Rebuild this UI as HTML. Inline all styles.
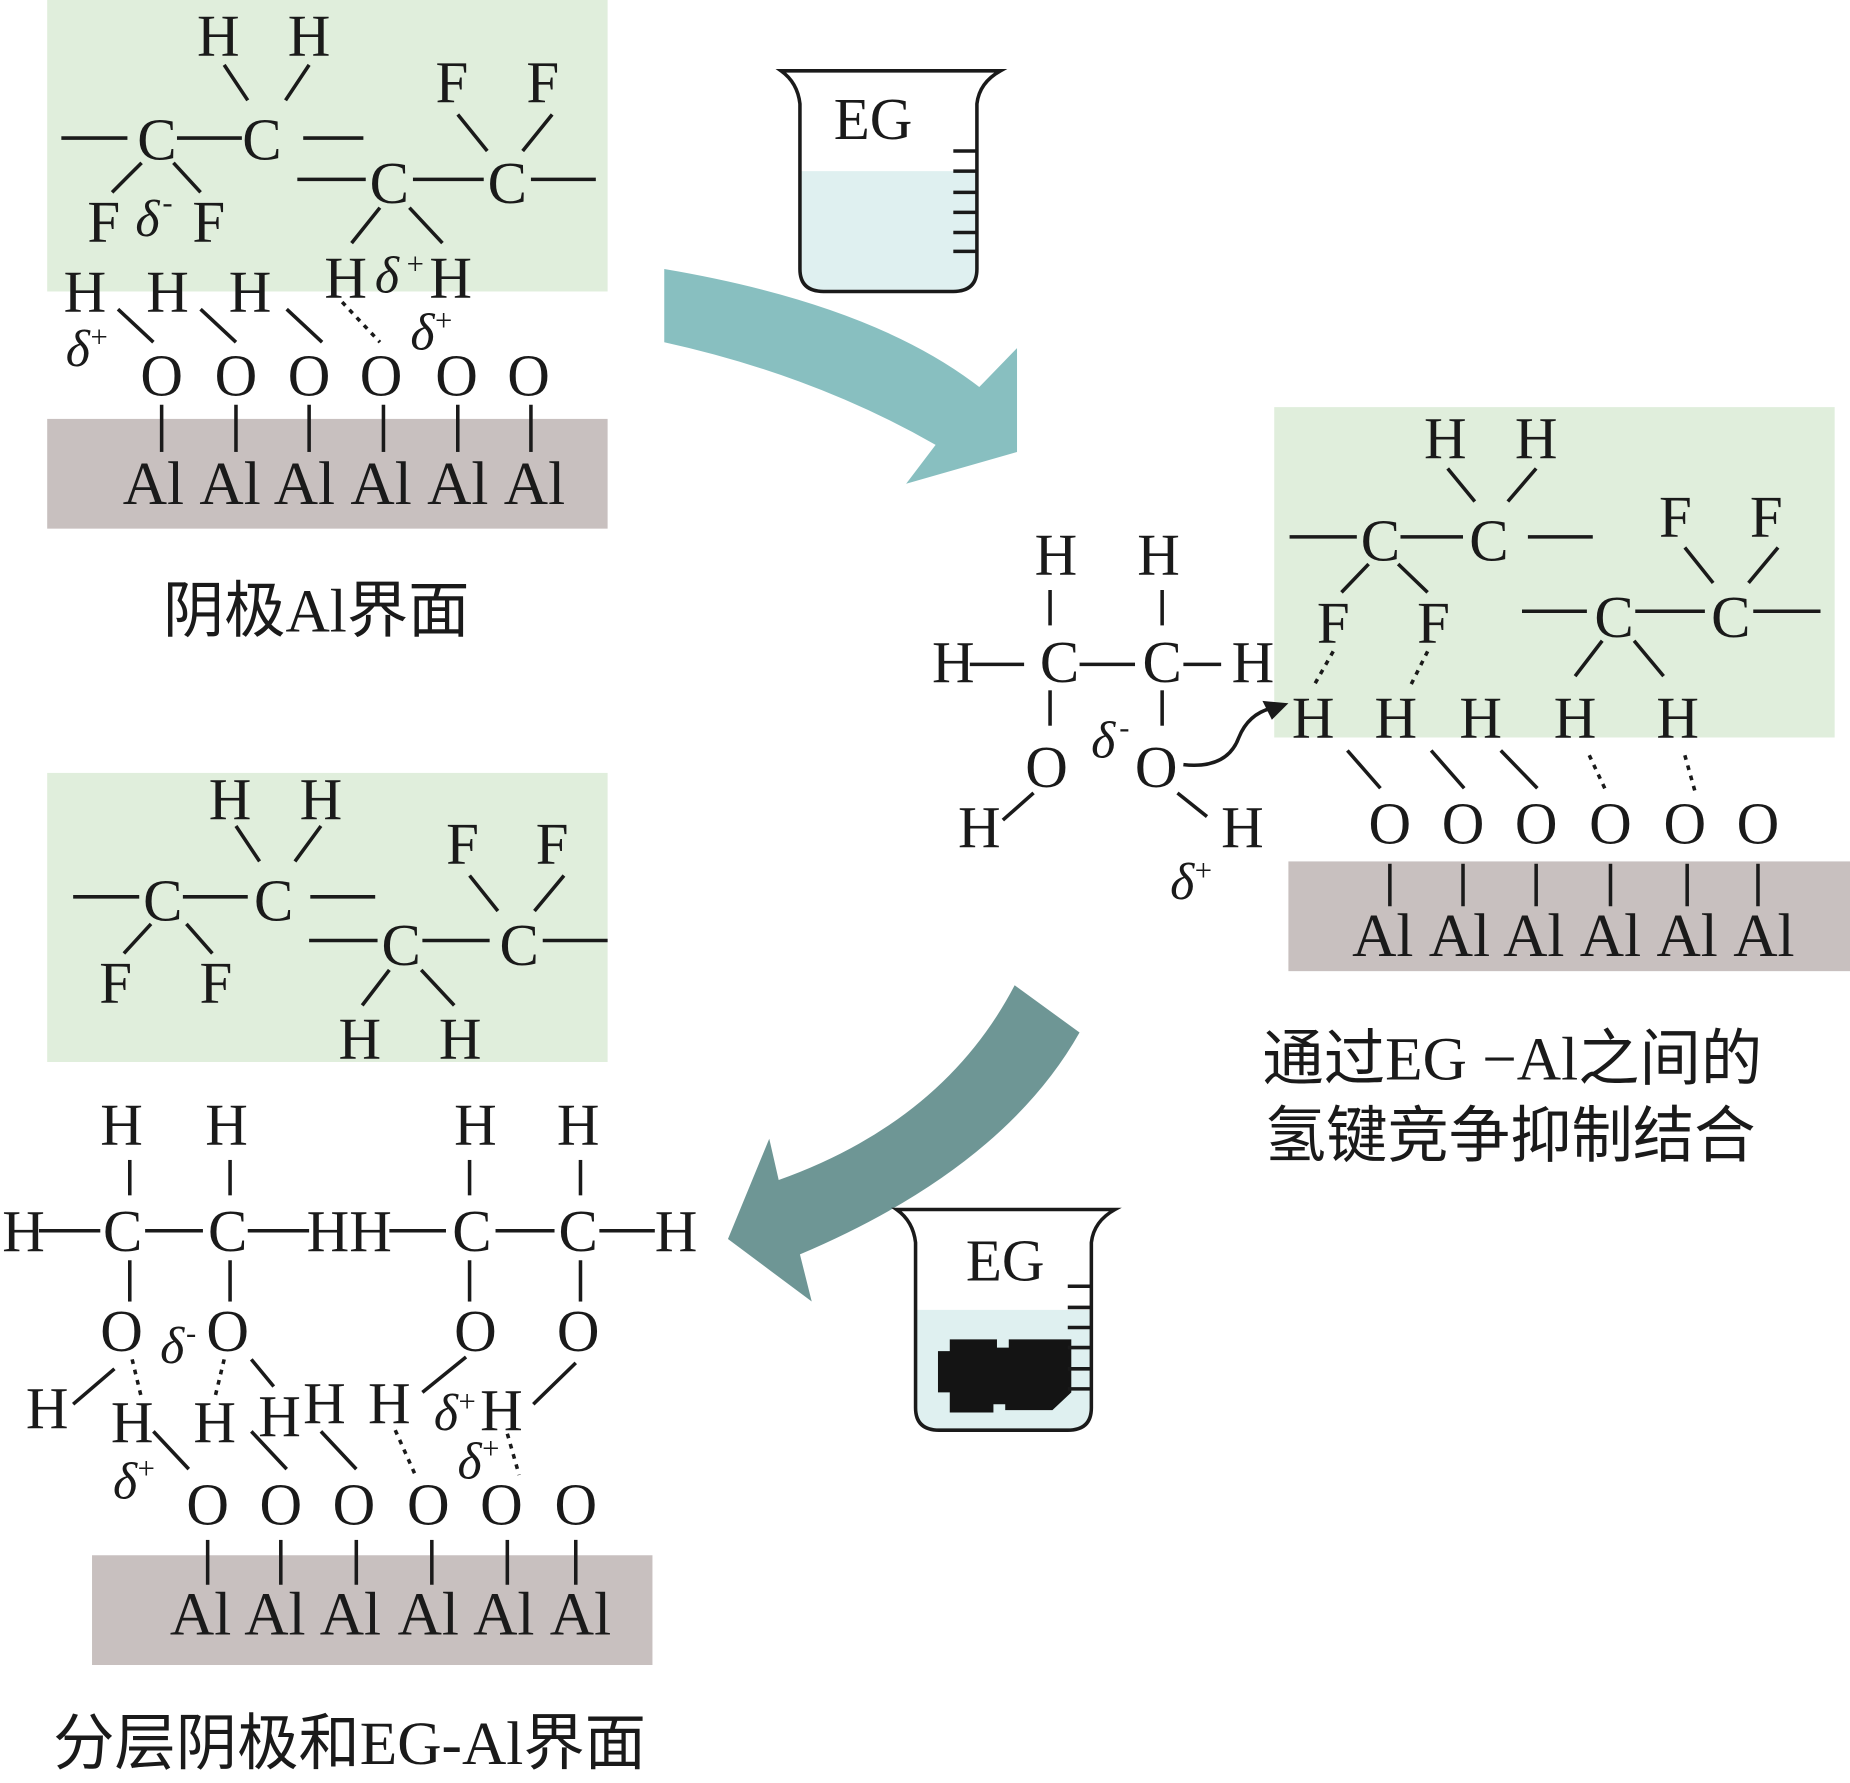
<!DOCTYPE html>
<html><head><meta charset="utf-8"><style>
html,body{margin:0;padding:0;background:#fff}
svg{display:block}
text{font-family:"Liberation Serif","Noto Serif CJK SC",serif;fill:#1a1a1a;text-anchor:middle}
.a{font-size:50px}
.al{font-size:52px}
.d{font-style:italic;font-size:44px}
.s{font-size:26px}
.cap{font-family:"Liberation Serif","Noto Sans CJK SC",sans-serif;font-size:52px;text-anchor:start}
line{stroke:#1a1a1a;stroke-width:3}
.dt{stroke-dasharray:4 5}
</style></head><body>
<svg width="1850" height="1783" viewBox="0 0 1568 1511" preserveAspectRatio="none" xmlns="http://www.w3.org/2000/svg">
<!-- Panel 1 -->
<rect x="40" y="0" width="475" height="247" fill="#e0eedc"/>
<rect x="40" y="355" width="475" height="93" fill="#c8c0bf"/>
<text class="a" x="185" y="47">H</text><text class="a" x="262" y="47">H</text>
<line x1="190" y1="55" x2="210" y2="85"/><line x1="262" y1="55" x2="242" y2="85"/>
<line x1="52" y1="117" x2="108" y2="117"/><text class="a" x="133" y="135">C</text>
<line x1="150" y1="117" x2="205" y2="117"/><text class="a" x="222" y="135">C</text>
<line x1="257" y1="117" x2="308" y2="117"/>
<text class="a" x="383" y="87">F</text><text class="a" x="460" y="87">F</text>
<line x1="388" y1="97" x2="413" y2="128"/><line x1="468" y1="97" x2="443" y2="128"/>
<line x1="252" y1="152" x2="310" y2="152"/><text class="a" x="330" y="172">C</text>
<line x1="350" y1="152" x2="410" y2="152"/><text class="a" x="430" y="172">C</text>
<line x1="450" y1="152" x2="505" y2="152"/>
<line x1="120" y1="138" x2="95" y2="163"/><line x1="147" y1="138" x2="170" y2="163"/>
<text class="a" x="88" y="205">F</text><text class="d" x="125" y="200">δ</text><text class="s" x="142" y="180">-</text><text class="a" x="177" y="205">F</text>
<line x1="322" y1="176" x2="298" y2="206"/><line x1="347" y1="176" x2="375" y2="206"/>
<text class="a" x="293" y="252">H</text><text class="d" x="328" y="248">δ</text><text class="s" x="352" y="232">+</text><text class="a" x="382" y="252">H</text>
<text class="a" x="72" y="264">H</text><text class="a" x="142" y="264">H</text><text class="a" x="212" y="264">H</text>
<line x1="100" y1="262" x2="130" y2="290"/><line x1="170" y1="262" x2="200" y2="290"/><line x1="243" y1="262" x2="273" y2="290"/>
<line class="dt" x1="290" y1="256" x2="322" y2="290"/>
<text class="d" x="66" y="310">δ</text><text class="s" x="84" y="294">+</text>
<text class="d" x="358" y="296">δ</text><text class="s" x="376" y="280">+</text>
<g>
<text class="a" x="137" y="335">O</text><text class="a" x="200" y="335">O</text><text class="a" x="262" y="335">O</text><text class="a" x="323" y="335">O</text><text class="a" x="387" y="335">O</text><text class="a" x="448" y="335">O</text>
<line x1="137" y1="343" x2="137" y2="383"/><line x1="200" y1="343" x2="200" y2="383"/><line x1="262" y1="343" x2="262" y2="383"/><line x1="325" y1="343" x2="325" y2="383"/><line x1="388" y1="343" x2="388" y2="383"/><line x1="450" y1="343" x2="450" y2="383"/>
<text class="al" x="130" y="427">Al</text><text class="al" x="195" y="427">Al</text><text class="al" x="258" y="427">Al</text><text class="al" x="323" y="427">Al</text><text class="al" x="388" y="427">Al</text><text class="al" x="453" y="427">Al</text>
</g>
<text class="cap" x="138" y="535">阴极Al界面</text>

<!-- Beaker 1 -->
<path d="M678,145 L828,145 L828,228 Q828,247 808,247 L698,247 Q678,247 678,228 Z" fill="#dff0f0"/>
<path d="M662,60 L848,60 Q830,70 828,88 L828,228 Q828,247 808,247 L698,247 Q678,247 678,228 L678,88 Q676,70 662,60 Z" fill="none" stroke="#1a1a1a" stroke-width="3"/>
<g><line x1="808" y1="128" x2="828" y2="128"/><line x1="808" y1="145" x2="828" y2="145"/><line x1="808" y1="163" x2="828" y2="163"/><line x1="808" y1="180" x2="828" y2="180"/><line x1="808" y1="197" x2="828" y2="197"/><line x1="808" y1="213" x2="828" y2="213"/></g>
<text class="a" x="740" y="118">EG</text>

<!-- Arrow 1 -->
<path d="M563,228 Q740,258 830,328 L862,295 L862,383 L768,410 L793,377 Q690,318 563,290 Z" fill="#88bfc0"/>

<!-- Panel 2 -->
<rect x="1080" y="345" width="475" height="280" fill="#e0eedc"/>
<rect x="1092" y="730" width="476" height="93" fill="#c8c0bf"/>
<text class="a" x="1225" y="388">H</text><text class="a" x="1302" y="388">H</text>
<line x1="1227" y1="397" x2="1250" y2="425"/><line x1="1302" y1="397" x2="1278" y2="425"/>
<line x1="1093" y1="455" x2="1150" y2="455"/><text class="a" x="1170" y="475">C</text>
<line x1="1187" y1="455" x2="1240" y2="455"/><text class="a" x="1262" y="475">C</text>
<line x1="1295" y1="455" x2="1350" y2="455"/>
<text class="a" x="1420" y="455">F</text><text class="a" x="1497" y="455">F</text>
<line x1="1428" y1="464" x2="1452" y2="494"/><line x1="1507" y1="464" x2="1482" y2="494"/>
<line x1="1290" y1="518" x2="1345" y2="518"/><text class="a" x="1368" y="540">C</text>
<line x1="1386" y1="518" x2="1445" y2="518"/><text class="a" x="1467" y="540">C</text>
<line x1="1486" y1="518" x2="1543" y2="518"/>
<line x1="1160" y1="478" x2="1137" y2="502"/><line x1="1185" y1="478" x2="1210" y2="502"/>
<text class="a" x="1130" y="545">F</text><text class="a" x="1215" y="545">F</text>
<line x1="1358" y1="543" x2="1335" y2="573"/><line x1="1385" y1="543" x2="1410" y2="573"/>
<line class="dt" x1="1130" y1="552" x2="1113" y2="582"/><line class="dt" x1="1210" y1="552" x2="1195" y2="582"/>
<text class="a" x="1113" y="625">H</text><text class="a" x="1183" y="625">H</text><text class="a" x="1255" y="625">H</text><text class="a" x="1335" y="625">H</text><text class="a" x="1422" y="625">H</text>
<line x1="1142" y1="636" x2="1170" y2="668"/><line x1="1213" y1="636" x2="1241" y2="668"/><line x1="1272" y1="636" x2="1303" y2="668"/>
<line class="dt" x1="1347" y1="640" x2="1362" y2="672"/><line class="dt" x1="1428" y1="640" x2="1437" y2="672"/>
<text class="a" x="1178" y="715">O</text><text class="a" x="1240" y="715">O</text><text class="a" x="1302" y="715">O</text><text class="a" x="1365" y="715">O</text><text class="a" x="1428" y="715">O</text><text class="a" x="1490" y="715">O</text>
<line x1="1178" y1="732" x2="1178" y2="768"/><line x1="1240" y1="732" x2="1240" y2="768"/><line x1="1302" y1="732" x2="1302" y2="768"/><line x1="1365" y1="732" x2="1365" y2="768"/><line x1="1430" y1="732" x2="1430" y2="768"/><line x1="1490" y1="732" x2="1490" y2="768"/>
<text class="al" x="1172" y="810">Al</text><text class="al" x="1237" y="810">Al</text><text class="al" x="1300" y="810">Al</text><text class="al" x="1365" y="810">Al</text><text class="al" x="1430" y="810">Al</text><text class="al" x="1495" y="810">Al</text>
<!-- EG molecule -->
<text class="a" x="895" y="487">H</text><text class="a" x="982" y="487">H</text>
<line x1="890" y1="500" x2="890" y2="530"/><line x1="985" y1="500" x2="985" y2="530"/>
<text class="a" x="808" y="578">H</text><line x1="822" y1="563" x2="868" y2="563"/><text class="a" x="898" y="578">C</text>
<line x1="915" y1="563" x2="962" y2="563"/><text class="a" x="985" y="578">C</text>
<line x1="1003" y1="563" x2="1035" y2="563"/><text class="a" x="1062" y="578">H</text>
<line x1="890" y1="585" x2="890" y2="615"/><line x1="985" y1="585" x2="985" y2="615"/>
<text class="a" x="887" y="667">O</text><text class="a" x="980" y="667">O</text>
<text class="d" x="935" y="642">δ</text><text class="s" x="953" y="625">-</text>
<text class="a" x="830" y="718">H</text><line x1="850" y1="695" x2="876" y2="672"/>
<line x1="998" y1="672" x2="1023" y2="692"/><text class="a" x="1053" y="718">H</text>
<text class="d" x="1002" y="762">δ</text><text class="s" x="1020" y="746">+</text>
<path d="M1003,648 Q1040,652 1050,625 Q1058,605 1078,600" fill="none" stroke="#1a1a1a" stroke-width="3"/>
<path d="M1092,596 L1070,594 L1078,610 Z" fill="#1a1a1a"/>
<text class="cap" x="1070" y="915">通过EG −Al之间的</text>
<text class="cap" x="1072" y="980">氢键竞争抑制结合</text>

<!-- Arrow 2 -->
<path d="M860,835 Q800,950 660,1000 L652,965 L617,1050 L688,1103 L678,1063 Q850,990 915,875 Z" fill="#6e9695"/>

<!-- Beaker 2 -->
<path d="M776,1110 L925,1110 L925,1193 Q925,1212 905,1212 L796,1212 Q776,1212 776,1193 Z" fill="#dff0f0"/>
<path d="M760,1025 L945,1025 Q927,1035 925,1053 L925,1193 Q925,1212 905,1212 L796,1212 Q776,1212 776,1193 L776,1053 Q774,1035 760,1025 Z" fill="none" stroke="#1a1a1a" stroke-width="3"/>
<path d="M805,1135 L845,1135 L845,1142 L855,1142 L855,1135 L908,1135 L908,1180 L892,1195 L852,1195 L852,1190 L842,1190 L842,1197 L805,1197 L805,1180 L795,1180 L795,1145 L805,1145 Z" fill="#141414"/>
<g><line x1="905" y1="1090" x2="925" y2="1090"/><line x1="905" y1="1108" x2="925" y2="1108"/><line x1="905" y1="1125" x2="925" y2="1125"/><line x1="905" y1="1142" x2="925" y2="1142"/><line x1="905" y1="1160" x2="925" y2="1160"/><line x1="905" y1="1177" x2="925" y2="1177"/></g>
<text class="a" x="852" y="1085">EG</text>

<!-- Panel 3 -->
<rect x="40" y="655" width="475" height="245" fill="#e0eedc"/>
<text class="a" x="195" y="694">H</text><text class="a" x="272" y="694">H</text>
<line x1="200" y1="700" x2="220" y2="730"/><line x1="272" y1="700" x2="250" y2="730"/>
<line x1="62" y1="760" x2="118" y2="760"/><text class="a" x="138" y="780">C</text>
<line x1="155" y1="760" x2="210" y2="760"/><text class="a" x="232" y="780">C</text>
<line x1="263" y1="760" x2="318" y2="760"/>
<text class="a" x="392" y="732">F</text><text class="a" x="468" y="732">F</text>
<line x1="398" y1="742" x2="422" y2="772"/><line x1="478" y1="742" x2="453" y2="772"/>
<line x1="262" y1="797" x2="320" y2="797"/><text class="a" x="340" y="818">C</text>
<line x1="358" y1="797" x2="415" y2="797"/><text class="a" x="440" y="818">C</text>
<line x1="460" y1="797" x2="515" y2="797"/>
<line x1="128" y1="783" x2="105" y2="808"/><line x1="158" y1="783" x2="180" y2="808"/>
<text class="a" x="98" y="850">F</text><text class="a" x="183" y="850">F</text>
<line x1="330" y1="822" x2="307" y2="852"/><line x1="357" y1="822" x2="385" y2="852"/>
<text class="a" x="305" y="897">H</text><text class="a" x="390" y="897">H</text>
<!-- two EG -->
<text class="a" x="103" y="970">H</text><text class="a" x="192" y="970">H</text><text class="a" x="403" y="970">H</text><text class="a" x="490" y="970">H</text>
<line x1="110" y1="983" x2="110" y2="1013"/><line x1="195" y1="983" x2="195" y2="1013"/><line x1="398" y1="983" x2="398" y2="1013"/><line x1="492" y1="983" x2="492" y2="1013"/>
<text class="a" x="20" y="1060">H</text><line x1="33" y1="1043" x2="85" y2="1043"/><text class="a" x="104" y="1060">C</text>
<line x1="123" y1="1043" x2="172" y2="1043"/><text class="a" x="193" y="1060">C</text>
<line x1="210" y1="1043" x2="262" y2="1043"/><text class="a" x="296" y="1060">HH</text>
<line x1="330" y1="1043" x2="378" y2="1043"/><text class="a" x="400" y="1060">C</text>
<line x1="420" y1="1043" x2="470" y2="1043"/><text class="a" x="490" y="1060">C</text>
<line x1="508" y1="1043" x2="555" y2="1043"/><text class="a" x="573" y="1060">H</text>
<line x1="110" y1="1068" x2="110" y2="1103"/><line x1="195" y1="1068" x2="195" y2="1103"/><line x1="398" y1="1068" x2="398" y2="1103"/><line x1="492" y1="1068" x2="492" y2="1103"/>
<text class="a" x="103" y="1145">O</text><text class="a" x="193" y="1145">O</text><text class="a" x="403" y="1145">O</text><text class="a" x="490" y="1145">O</text>
<text class="d" x="146" y="1155">δ</text><text class="s" x="162" y="1138">-</text>
<text class="a" x="40" y="1210">H</text><line x1="62" y1="1190" x2="97" y2="1160"/>
<line class="dt" x1="112" y1="1152" x2="120" y2="1185"/><line class="dt" x1="190" y1="1152" x2="182" y2="1185"/>
<line x1="213" y1="1152" x2="232" y2="1175"/>
<line x1="395" y1="1150" x2="358" y2="1180"/><line x1="488" y1="1155" x2="452" y2="1190"/>
<text class="a" x="112" y="1222">H</text><text class="a" x="182" y="1222">H</text><text class="a" x="237" y="1217">H</text><text class="a" x="275" y="1206">H</text><text class="a" x="330" y="1206">H</text>
<text class="d" x="378" y="1212">δ</text><text class="s" x="396" y="1196">+</text><text class="a" x="425" y="1212">H</text>
<line x1="130" y1="1213" x2="160" y2="1245"/><line x1="213" y1="1213" x2="243" y2="1245"/><line x1="272" y1="1213" x2="302" y2="1245"/>
<line class="dt" x1="335" y1="1212" x2="352" y2="1250"/><line class="dt" x1="430" y1="1215" x2="440" y2="1250"/>
<text class="d" x="398" y="1253">δ</text><text class="s" x="416" y="1236">+</text>
<text class="d" x="106" y="1270">δ</text><text class="s" x="124" y="1253">+</text>
<rect x="78" y="1318" width="475" height="93" fill="#c8c0bf"/>
<text class="a" x="176" y="1292">O</text><text class="a" x="238" y="1292">O</text><text class="a" x="300" y="1292">O</text><text class="a" x="363" y="1292">O</text><text class="a" x="425" y="1292">O</text><text class="a" x="488" y="1292">O</text>
<line x1="176" y1="1305" x2="176" y2="1343"/><line x1="238" y1="1305" x2="238" y2="1343"/><line x1="302" y1="1305" x2="302" y2="1343"/><line x1="366" y1="1305" x2="366" y2="1343"/><line x1="430" y1="1305" x2="430" y2="1343"/><line x1="488" y1="1305" x2="488" y2="1343"/>
<text class="al" x="170" y="1385">Al</text><text class="al" x="233" y="1385">Al</text><text class="al" x="297" y="1385">Al</text><text class="al" x="363" y="1385">Al</text><text class="al" x="427" y="1385">Al</text><text class="al" x="492" y="1385">Al</text>
<text class="cap" x="45" y="1495">分层阴极和EG-Al界面</text>
</svg>
</body></html>
